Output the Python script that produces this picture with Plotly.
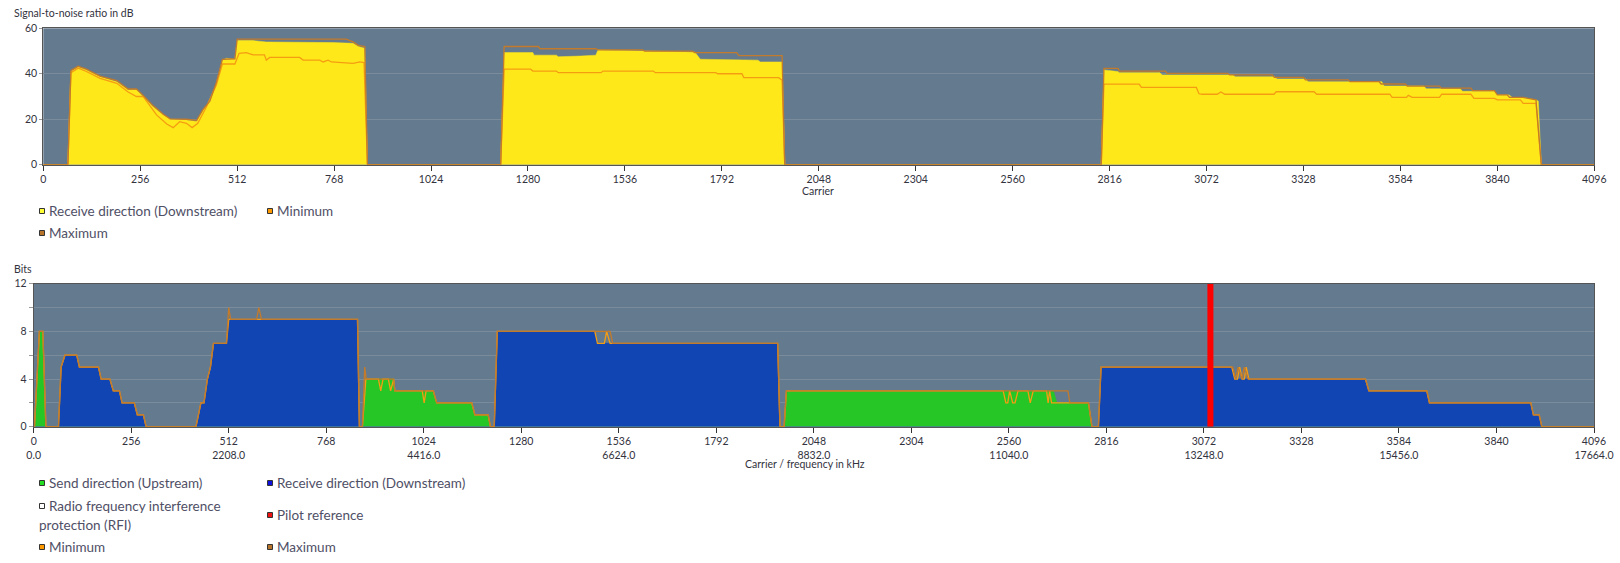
import plotly.graph_objects as go

# ---------------- data: SNR (dB) per carrier ----------------
snr_carrier = [0, 65, 73, 92, 114, 150, 194, 224, 246, 264, 290, 317, 335, 378, 391, 405, 422, 440, 457, 473, 484, 506,
               512, 554, 589, 677, 765, 818, 832, 849, 856,
               1208, 1217, 1293, 1296, 1355, 1360, 1420, 1459, 1465, 1583, 1714, 1721, 1735, 1887, 1894, 1951, 1958,
               2794, 2801, 2838, 2842, 2949, 2955, 3142, 3148, 3252, 3258, 3335, 3340, 3535, 3541, 3646, 3652, 3742,
               3748, 3832, 3840, 3871, 3880, 3908, 3942, 3948, 3956, 4096]
snr_value = [0, 0, 41, 43, 41.7, 38.7, 36.5, 33, 33, 30, 25.5, 21.9, 20, 19.7, 19.2, 19, 24, 27.7, 35.8, 46, 46.8, 46.4,
             54.6, 54.6, 54, 54, 53.7, 53.4, 52, 51.2, 0,
             0, 49.3, 49.3, 48.2, 48.2, 47.5, 47.8, 48.2, 50.5, 50, 49.7, 49.5, 46.4, 46, 45.2, 45.2, 0,
             0, 41.7, 41, 40.5, 40.5, 39.5, 39.5, 38.7, 38.7, 37.7, 37.7, 36.5, 36.5, 34.6, 34.6, 33.4, 33.4,
             32.3, 32.3, 30.7, 30.7, 29.5, 29.5, 28.5, 28, 0, 0]

snr_max_carrier = [0, 65, 73, 92, 114, 150, 194, 224, 246, 264, 290, 317, 335, 378, 405, 422, 440, 457, 473, 506, 512,
                   800, 818, 832, 849, 856,
                   1208, 1217, 1307, 1312, 1459, 1465, 1583, 1588, 1714, 1720, 1831, 1837, 1951, 1958,
                   2794, 2801, 2838, 2842, 2963, 2968, 3128, 3133, 3246, 3251, 3328, 3333, 3446, 3451, 3528, 3533,
                   3597, 3602, 3687, 3692, 3770, 3775, 3832, 3840, 3866, 3872, 3908, 3942, 3956, 4096]
snr_max_value = [0, 0, 41.5, 43.3, 42, 39, 37, 33.3, 33.3, 30.5, 26, 22.2, 20.2, 20, 19.5, 24.3, 28, 36.2, 46.3, 46.6, 55.2,
                 55.2, 54, 52.5, 52, 0,
                 0, 52, 52, 51, 51, 50.5, 50.5, 50, 50, 49.3, 49.3, 48, 48, 0,
                 0, 42.4, 42.4, 41.2, 41.2, 40.2, 40.2, 39.5, 39.5, 38.4, 38.4, 37.3, 37.3, 36.5, 36.5, 35.5,
                 35.5, 34.6, 34.6, 33.7, 33.7, 32.6, 32.6, 30.7, 30.7, 29.6, 29.6, 28.5, 0, 0]

snr_min_carrier = [0, 65, 73, 92, 114, 150, 194, 224, 246, 264, 299, 326, 343, 360, 378, 393, 408, 431, 457, 473, 506,
                   517, 536, 554, 584, 589, 598, 677, 686, 730, 739, 752, 761, 818, 836, 847, 856,
                   1208, 1217, 1287, 1293, 1355, 1360, 1473, 1478, 1611, 1616, 1776, 1781, 1845, 1850, 1942, 1951, 1958,
                   2794, 2801, 2894, 2900, 3045, 3052, 3060, 3100, 3110, 3120, 3250, 3256, 3356, 3363, 3556, 3562,
                   3600, 3605, 3615, 3687, 3693, 3770, 3778, 3832, 3840, 3901, 3908, 3942, 3956, 4096]
snr_min_value = [0, 0, 40.5, 42.5, 41, 38, 35.8, 32, 30, 30, 21.9, 17.9, 16.3, 18.9, 18.2, 16.3, 18.2, 25.5, 35, 44.3, 44.3,
                 49, 49.3, 48.3, 48.3, 46, 47.2, 47.2, 46, 46, 45.2, 46, 45.2, 44.6, 45.2, 44.9, 0,
                 0, 42, 42, 41.2, 41.2, 40.5, 40.5, 41.2, 41.2, 40.5, 40.5, 40, 40, 38.3, 38.3, 37.2, 0,
                 0, 35.4, 35.4, 34, 34, 31.2, 31, 31, 32, 31, 31, 32.1, 32.1, 31, 31, 29.6,
                 29.6, 30.5, 29.6, 29.6, 31, 31, 29.2, 29.2, 28.5, 28.5, 27, 27, 0, 0]

# ---------------- data: bits per carrier ----------------
up_carrier = [0, 2, 15, 24, 32, 854, 863, 872, 945, 948, 1049, 1058, 1150, 1158, 1193, 1199,
              1970, 1976, 2677, 2686, 2769, 2778, 4096]
up_bits = [0, 0, 8, 8, 0, 0, 0, 4, 4, 3, 3, 2, 2, 1, 1, 0,
           0, 3, 3, 2, 2, 0, 0]

down_carrier = [0, 65, 72, 82, 113, 120, 170, 177, 200, 209, 225, 232, 264, 272, 288, 295,
                426, 439, 447, 456, 464, 472, 506, 512, 850, 855,
                1209, 1217, 1473, 1480, 1953, 1959,
                2795, 2802, 3148, 3153, 3496, 3505, 3657, 3664, 3930, 3937, 3952, 3959, 4096]
down_bits = [0, 0, 5, 6, 6, 5, 5, 4, 4, 3, 3, 2, 2, 1, 1, 0,
             0, 2, 2, 4, 5, 7, 7, 9, 9, 0,
             0, 8, 8, 7, 7, 0,
             0, 5, 5, 4, 4, 3, 3, 2, 2, 1, 1, 0, 0]

bits_max_carrier = [0, 2, 15, 24, 32, 65, 72, 82, 113, 120, 170, 177, 200, 209, 225, 232, 264, 272, 288, 295,
                    426, 439, 447, 456, 464, 472, 506, 512, 517, 585, 591, 598, 850, 855, 863, 869, 873, 945, 948,
                    1049, 1058, 1150, 1158, 1193, 1199, 1209, 1217, 1513, 1520, 1953, 1959, 1970, 1976, 2715, 2720,
                    2769, 2778, 2795, 2802, 3148, 3155, 3162, 3172, 3178, 3188, 3496, 3505, 3657, 3664, 3930, 3937,
                    3952, 3959, 4096]
bits_max = [0, 0, 8, 8, 0, 0, 5, 6, 6, 5, 5, 4, 4, 3, 3, 2, 2, 1, 1, 0,
            0, 2, 2, 4, 5, 7, 7, 10, 9, 9, 10, 9, 9, 0, 0, 5, 4, 4, 3,
            3, 2, 2, 1, 1, 0, 0, 8, 8, 7, 7, 0, 0, 3, 3, 2,
            2, 0, 0, 5, 5, 4, 5, 4, 5, 4, 4, 3, 3, 2, 2, 1,
            1, 0, 0]

bits_min_carrier = [0, 2, 15, 24, 32, 65, 72, 82, 113, 120, 170, 177, 200, 209, 225, 232, 264, 272, 288, 295,
                    426, 439, 447, 456, 464, 472, 506, 512, 850, 855, 863, 872, 905, 911, 917, 931, 937, 943, 945, 948,
                    1020, 1025, 1030, 1049, 1058, 1150, 1158, 1193, 1199, 1209, 1217, 1473, 1480, 1498, 1504, 1513,
                    1953, 1959, 1970, 1976, 2545, 2552, 2557, 2562, 2570, 2576, 2584, 2610, 2616, 2624, 2659, 2663,
                    2667, 2672, 2769, 2778, 2795, 2802, 3145, 3153, 3160, 3166, 3172, 3178, 3183, 3190, 3496, 3505,
                    3657, 3664, 3930, 3937, 3952, 3959, 4096]
bits_min = [0, 0, 8, 8, 0, 0, 5, 6, 6, 5, 5, 4, 4, 3, 3, 2, 2, 1, 1, 0,
            0, 2, 2, 4, 5, 7, 7, 9, 9, 0, 0, 4, 4, 3, 4, 4, 3, 4, 4, 3,
            3, 2, 3, 3, 2, 2, 1, 1, 0, 0, 8, 8, 7, 7, 8, 7,
            7, 0, 0, 3, 3, 2, 2, 3, 2, 2, 3, 3, 2, 3, 3, 2,
            3, 2, 2, 0, 0, 5, 5, 4, 4, 5, 4, 4, 5, 4, 4, 3,
            3, 2, 2, 1, 1, 0, 0]

pilot_carrier = [3089, 3089]
pilot_bits = [0, 12]

carrier_ticks = list(range(0, 4097, 256))
khz_per_carrier = 4.3125
bottom_tick_text = [f"{c}<br>{c * khz_per_carrier:.1f}" if c % 512 == 0 else str(c) for c in carrier_ticks]

# ---------------- figure ----------------
W, H = 1620, 563
FONT = "Lato, 'Source Sans Pro', sans-serif"
BG = "#647a8e"
GRID = "#7a8b9c"
C_YELLOW = "#ffe81a"
C_BLUE = "#1245b4"
C_GREEN = "#27c627"
C_MIN = "#f59d12"
C_MAX = "#c27a2c"

def px(x):
    return x / W

def py(y):
    return 1 - y / H

fig = go.Figure()

# top chart
fig.add_trace(go.Scatter(x=snr_carrier, y=snr_value, mode="lines", fill="tozeroy", fillcolor=C_YELLOW,
                         line=dict(color=C_YELLOW, width=0.5), xaxis="x", yaxis="y", showlegend=False,
                         name="Receive direction (Downstream)"))
fig.add_trace(go.Scatter(x=snr_min_carrier, y=snr_min_value, mode="lines", line=dict(color=C_MIN, width=1.3),
                         xaxis="x", yaxis="y", showlegend=False, name="Minimum"))
fig.add_trace(go.Scatter(x=snr_max_carrier, y=snr_max_value, mode="lines", line=dict(color=C_MAX, width=1.3),
                         xaxis="x", yaxis="y", showlegend=False, name="Maximum"))

# bottom chart
fig.add_trace(go.Scatter(x=up_carrier, y=up_bits, mode="lines", fill="tozeroy", fillcolor=C_GREEN,
                         line=dict(color=C_GREEN, width=0.5), xaxis="x2", yaxis="y2", showlegend=False,
                         name="Send direction (Upstream)"))
fig.add_trace(go.Scatter(x=down_carrier, y=down_bits, mode="lines", fill="tozeroy", fillcolor=C_BLUE,
                         line=dict(color=C_BLUE, width=0.5), xaxis="x2", yaxis="y2", showlegend=False,
                         name="Receive direction (Downstream)"))
fig.add_trace(go.Scatter(x=bits_min_carrier, y=bits_min, mode="lines", line=dict(color=C_MIN, width=1.3),
                         xaxis="x2", yaxis="y2", showlegend=False, name="Minimum"))
fig.add_trace(go.Scatter(x=bits_max_carrier, y=bits_max, mode="lines", line=dict(color=C_MAX, width=1.3),
                         xaxis="x2", yaxis="y2", showlegend=False, name="Maximum"))
fig.add_trace(go.Scatter(x=pilot_carrier, y=pilot_bits, mode="lines", line=dict(color="#ff0000", width=6),
                         xaxis="x2", yaxis="y2", showlegend=False, name="Pilot reference"))

tickfont = dict(family=FONT, size=10.5, color="#333340")
common_x = dict(range=[0, 4096], tickvals=carrier_ticks, ticks="outside", ticklen=5, tickcolor="#333",
                showgrid=False, zeroline=False, showline=True, linecolor="#555", linewidth=1, mirror=True,
                tickfont=tickfont, automargin=False, fixedrange=True)
common_y = dict(ticks="outside", tickcolor="#999", showgrid=True, gridcolor=GRID, gridwidth=1, zeroline=False,
                showline=True, linecolor="#555", linewidth=1, mirror=True, tickfont=tickfont,
                automargin=False, fixedrange=True)

fig.update_layout(
    width=W, height=H, margin=dict(l=0, r=0, t=0, b=0),
    paper_bgcolor="white", plot_bgcolor=BG, showlegend=False,
    font=dict(family=FONT, size=11, color="#333340"),
    xaxis=dict(domain=[px(43.3), px(1594.3)], anchor="y", ticktext=[str(c) for c in carrier_ticks], **common_x),
    yaxis=dict(domain=[py(164.7), py(28.3)], anchor="x", range=[0, 60], tickvals=[0, 20, 40, 60], ticklen=3,
               **common_y),
    xaxis2=dict(domain=[px(33.7), px(1594)], anchor="y2", ticktext=bottom_tick_text, **common_x),
    yaxis2=dict(domain=[py(426.7), py(283.7)], anchor="x2", range=[0, 12], tickvals=list(range(0, 13, 2)),
                ticktext=["0", "", "4", "", "8", "", "12"], ticklen=4, **common_y),
)

annotations = []
shapes = []

def text(x, y, s, size=11, color="#333340", xanchor="left"):
    annotations.append(dict(x=px(x), y=py(y), xref="paper", yref="paper", text=s, showarrow=False,
                            xanchor=xanchor, yanchor="middle", font=dict(family=FONT, size=size, color=color)))

def marker(x, y, color):
    shapes.append(dict(type="rect", xref="paper", yref="paper", x0=px(x - 2.5), x1=px(x + 2.5),
                       y0=py(y + 2.5), y1=py(y - 2.5), fillcolor=color, line=dict(color="#333", width=1)))

# axis titles
text(12, 13, "Signal-to-noise ratio in dB", size=10.5)
text(818, 191, "Carrier", size=10.5, xanchor="center")
text(12, 269, "Bits", size=10.5)
text(805, 464, "Carrier / frequency in kHz", size=10.5, xanchor="center")

LEG = "#4f4f66"
LS = 13.5
# top legend
marker(42, 211, "#ffff33"); text(47, 211, "Receive direction (Downstream)", LS, LEG)
marker(270, 211, "#ff9900"); text(275, 211, "Minimum", LS, LEG)
marker(42, 233, "#b8732a"); text(47, 233, "Maximum", LS, LEG)
# bottom legend
marker(42, 483, "#22dd22"); text(47, 483, "Send direction (Upstream)", LS, LEG)
marker(270, 483, "#1010dd"); text(275, 483, "Receive direction (Downstream)", LS, LEG)
marker(42, 506, "#ffffff"); text(47, 506, "Radio frequency interference", LS, LEG)
text(37, 525, "protection (RFI)", LS, LEG)
marker(270, 515, "#ee1111"); text(275, 515, "Pilot reference", LS, LEG)
marker(42, 547, "#ff9900"); text(47, 547, "Minimum", LS, LEG)
marker(270, 547, "#b8732a"); text(275, 547, "Maximum", LS, LEG)

fig.update_layout(annotations=annotations, shapes=shapes)

fig.write_html("out.html", config={"displayModeBar": False},
               post_script="document.body.style.margin='0';document.body.style.overflow='hidden';")
